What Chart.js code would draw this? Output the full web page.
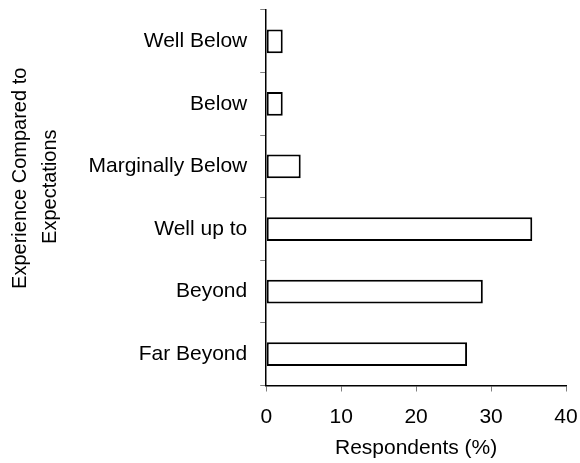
<!DOCTYPE html>
<html>
<head>
<meta charset="utf-8">
<script src="https://cdn.jsdelivr.net/npm/chart.js@4/dist/chart.umd.min.js"></script>
<style>
  html, body { margin: 0; padding: 0; background: #ffffff; }
  #wrap { width: 580px; height: 463px; }
</style>
</head>
<body>
<div id="wrap"><canvas id="chart" width="580" height="463"></canvas></div>
<script>
// Chart data
const categories = ['Well Below', 'Below', 'Marginally Below', 'Well up to', 'Beyond', 'Far Beyond'];
const respondents = [2.2, 2.2, 4.6, 35.5, 28.9, 26.8];
const xTicks = [0, 10, 20, 30, 40];

const family = 'Liberation Sans, Arial, sans-serif';
const tickFont = { family: family, size: 21 };

new Chart(document.getElementById('chart'), {
  type: 'bar',
  data: {
    labels: categories,
    datasets: [{
      data: respondents,
      backgroundColor: '#ffffff',
      borderColor: '#000000',
      borderWidth: 2,
      borderSkipped: false,
      categoryPercentage: 1,
      barPercentage: 0.38
    }]
  },
  options: {
    indexAxis: 'y',
    responsive: false,
    animation: false,
    devicePixelRatio: 1,
    layout: { padding: { left: 3.5, top: 10, right: 14, bottom: 0 } },
    plugins: {
      legend: { display: false },
      tooltip: { enabled: false }
    },
    scales: {
      x: {
        min: 0,
        max: 40,
        afterBuildTicks: (axis) => { axis.ticks = xTicks.map(v => ({ value: v })); },
        // let the layout padding decide the right edge, not the "40" label
        afterFit: (axis) => { axis.paddingLeft = 0; axis.paddingRight = 0; },
        grid: { drawOnChartArea: false, drawTicks: true, tickLength: 6, tickColor: '#808080' },
        border: { display: true, color: '#000000', width: 1.5 },
        ticks: { color: '#000000', font: tickFont, padding: 13 },
        title: {
          display: true,
          text: 'Respondents (%)',
          color: '#000000',
          font: { family: family, size: 21, lineHeight: 1 },
          padding: { top: -5.2, bottom: 4.5 }
        }
      },
      y: {
        afterFit: (axis) => { axis.paddingTop = 0; axis.paddingBottom = 0; },
        grid: { drawOnChartArea: false, drawTicks: true, tickLength: 6, tickColor: '#808080' },
        border: { display: true, color: '#000000', width: 1.5 },
        ticks: { color: '#000000', font: tickFont, padding: 13 },
        title: {
          display: true,
          // leading spaces nudge the lines up the axis like the original
          text: ['       Experience Compared to', '    Expectations'],
          color: '#000000',
          font: { family: family, size: 20, lineHeight: 1.5 },
          padding: { top: 1.5, bottom: 10.5 }
        }
      }
    }
  }
});
</script>
</body>
</html>
